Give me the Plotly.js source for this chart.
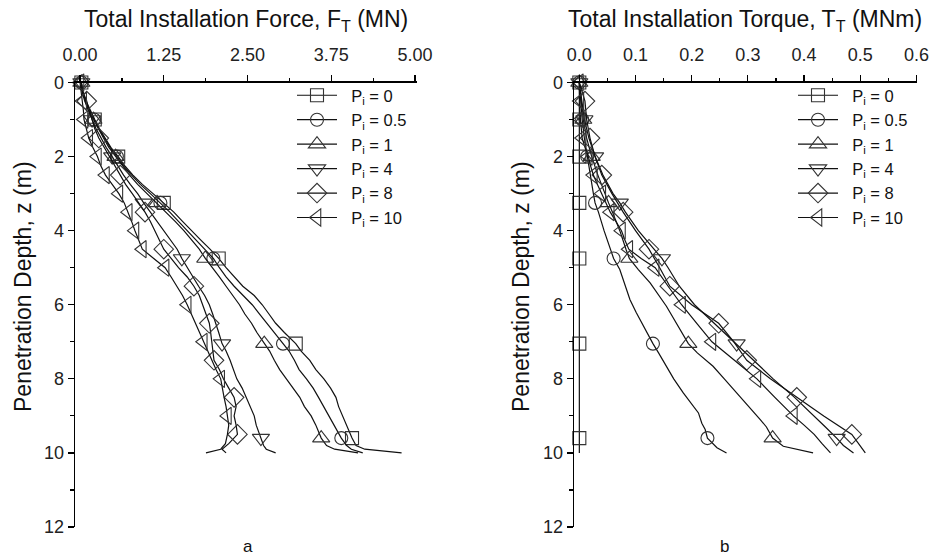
<!DOCTYPE html>
<html>
<head>
<meta charset="utf-8">
<script src="https://cdn.plot.ly/plotly-3.0.1.min.js"></script>
<style>html,body{margin:0;padding:0;background:#fff;}#chart{width:931px;height:559px;}</style>
</head>
<body>
<div id="chart"></div>
<script>
// ---------------- DATA ----------------
const seriesNames = ['P<sub>i</sub> = 0', 'P<sub>i</sub> = 0.5', 'P<sub>i</sub> = 1', 'P<sub>i</sub> = 4', 'P<sub>i</sub> = 8', 'P<sub>i</sub> = 10'];
const seriesSymbols = ['square-open', 'circle-open', 'triangle-up-open', 'triangle-down-open', 'diamond-open', 'triangle-left-open'];

// common depth grid (m) for panel a, P = 0, 0.5, 1, 4
const zGridA = [0,0.25,0.5,0.75,1.0,1.25,1.5,1.75,2.0,2.25,2.5,2.75,3.0,3.25,3.5,3.75,4.0,4.25,4.5,4.75,5.0,5.25,5.5,5.75,6.0,6.25,6.5,6.75,7.05,7.25,7.5,7.75,8.0,8.25,8.5,8.75,9.0,9.25,9.6,9.8,9.9,10.0];
// depth grid for panel a, P = 8, 10
const zGridB = [0,0.25,0.5,0.75,1.0,1.25,1.5,1.75,2.0,2.25,2.5,2.75,3.0,3.25,3.5,3.75,4.0,4.25,4.5,4.75,5.0,5.25,5.5,5.75,6.0,6.25,6.5,6.75,7.0,7.25,7.5,7.75,8.0,8.25,8.5,8.75,9.0,9.25,9.5,9.75,9.9,10.0];

// Panel a: total installation force F_T (MN)
const forceP0  = [0.02,0.04,0.09,0.15,0.22,0.29,0.37,0.46,0.57,0.67,0.79,0.93,1.09,1.25,1.40,1.53,1.66,1.80,1.94,2.07,2.18,2.30,2.43,2.60,2.72,2.82,2.92,3.05,3.22,3.30,3.43,3.52,3.64,3.74,3.82,3.86,3.92,3.97,4.06,4.12,4.25,4.80];
const forceP05 = [0.02,0.04,0.08,0.14,0.21,0.28,0.36,0.45,0.55,0.65,0.77,0.90,1.05,1.20,1.34,1.47,1.60,1.74,1.87,1.99,2.08,2.18,2.30,2.44,2.57,2.68,2.79,2.90,3.03,3.12,3.20,3.27,3.38,3.48,3.56,3.64,3.72,3.79,3.90,3.98,4.05,4.22];
const forceP1  = [0.02,0.04,0.08,0.13,0.20,0.27,0.35,0.43,0.53,0.63,0.74,0.86,1.00,1.15,1.28,1.42,1.55,1.67,1.78,1.87,1.98,2.08,2.18,2.28,2.38,2.46,2.56,2.64,2.75,2.83,2.90,2.98,3.08,3.18,3.28,3.35,3.45,3.52,3.60,3.68,3.80,4.15];
const forceP4  = [0.02,0.03,0.07,0.12,0.18,0.24,0.31,0.39,0.48,0.56,0.65,0.75,0.86,0.95,1.05,1.15,1.25,1.35,1.45,1.52,1.60,1.68,1.77,1.86,1.93,1.98,2.03,2.07,2.12,2.18,2.24,2.29,2.34,2.42,2.48,2.55,2.60,2.63,2.70,2.74,2.78,2.92];
const forceP8  = [0.01,0.04,0.10,0.13,0.18,0.22,0.28,0.36,0.45,0.52,0.60,0.68,0.78,0.88,0.97,1.05,1.12,1.18,1.25,1.36,1.47,1.60,1.70,1.78,1.83,1.88,1.93,1.95,1.97,1.98,2.00,2.08,2.14,2.22,2.30,2.33,2.30,2.33,2.35,2.22,2.12,2.18];
const forceP10 = [0.00,0.02,0.04,0.05,0.06,0.09,0.13,0.19,0.26,0.31,0.38,0.48,0.58,0.66,0.72,0.77,0.82,0.87,0.93,1.10,1.27,1.36,1.45,1.53,1.60,1.66,1.72,1.78,1.84,1.90,1.96,2.03,2.10,2.12,2.15,2.18,2.20,2.22,2.20,2.17,2.10,1.88];

// Panel b: total installation torque T_T (MNm)
const zTorqueP0  = [0,1.0,2.0,3.25,4.75,7.05,9.6,10.0];
const torqueP0   = [0,0,0,0,0,0,0,0];
const zTorqueP05 = [0,0.5,1.0,1.5,2.0,2.5,3.0,3.25,3.5,4.0,4.5,4.75,5.05,5.5,5.86,6.2,6.58,7.05,7.3,7.66,8.0,8.38,8.65,8.92,9.2,9.37,9.6,9.86,10.0];
const torqueP05  = [0,0.002,0.005,0.009,0.014,0.020,0.025,0.028,0.034,0.044,0.055,0.061,0.072,0.082,0.090,0.101,0.114,0.131,0.141,0.155,0.168,0.185,0.198,0.212,0.218,0.224,0.228,0.245,0.262];
const zTorqueP1  = [0,0.5,1.0,1.5,2.0,2.5,3.0,3.25,3.5,4.0,4.5,4.75,5.05,5.41,6.04,6.67,7.05,7.3,7.66,8.0,8.47,8.8,9.1,9.3,9.6,9.82,10.0];
const torqueP1   = [0,0.003,0.007,0.013,0.022,0.033,0.045,0.052,0.059,0.072,0.083,0.089,0.105,0.126,0.155,0.179,0.194,0.210,0.238,0.258,0.286,0.305,0.322,0.333,0.344,0.363,0.416];
const zTorqueP4  = [0,0.5,1.0,1.5,2.0,2.5,3.0,3.25,3.5,4.0,4.5,4.75,5.0,5.5,6.0,6.5,7.05,7.5,8.0,8.5,9.0,9.3,9.6,9.8,10.0];
const torqueP4   = [0,0.004,0.009,0.017,0.028,0.042,0.060,0.072,0.082,0.105,0.132,0.147,0.158,0.178,0.205,0.240,0.280,0.310,0.345,0.383,0.418,0.438,0.458,0.470,0.488];
const zTorqueP8  = [0,0.5,1.0,1.5,2.0,2.5,3.0,3.5,4.0,4.5,5.0,5.5,6.0,6.5,7.0,7.5,8.0,8.5,9.0,9.5,9.75,9.9,10.0];
const torqueP8   = [0,0.010,0.013,0.019,0.028,0.040,0.058,0.078,0.100,0.124,0.143,0.161,0.200,0.248,0.275,0.298,0.340,0.387,0.435,0.485,0.497,0.505,0.509];
const zTorqueP10 = [0,0.25,0.5,0.75,1.0,1.25,1.5,1.75,2.0,2.25,2.5,2.75,3.0,3.25,3.5,3.75,4.0,4.25,4.5,4.75,5.0,5.5,6.0,6.5,7.0,7.5,8.0,8.5,9.0,9.25,9.5,9.75,9.9,10.0];
const torqueP10  = [0,0,0.001,0.001,0.002,0.003,0.005,0.010,0.016,0.020,0.025,0.032,0.040,0.047,0.055,0.065,0.075,0.081,0.088,0.110,0.135,0.158,0.182,0.209,0.236,0.276,0.316,0.348,0.381,0.400,0.418,0.432,0.440,0.447];

// depths at which symbols are drawn
const markDepthsP0to4 = [0,1.0,2.0,3.25,4.75,7.05,9.6];
const markDepthsP8    = [0.5,1.5,2.5,3.5,4.5,5.5,6.5,7.5,8.5,9.5];
const markDepthsP10   = [0,0.5,1.0,1.5,2.0,2.5,3.0,3.5,4.0,4.5,5.0,6.0,7.0,8.0,9.0];

const xTicksA = [0,1.25,2.5,3.75,5.0];
const xTicksB = [0,0.1,0.2,0.3,0.4,0.5,0.6];
const yTicks  = [0,2,4,6,8,10,12];

// ---------------- BUILD ----------------
const FONT = 'Liberation Sans, Arial, Helvetica, sans-serif';
const LINE_C = '#111';
const MARK_C = '#333';

const panelA = [
  [zGridA, forceP0, markDepthsP0to4],
  [zGridA, forceP05, markDepthsP0to4],
  [zGridA, forceP1, markDepthsP0to4],
  [zGridA, forceP4, markDepthsP0to4],
  [zGridB, forceP8, markDepthsP8],
  [zGridB, forceP10, markDepthsP10]
];
const panelB = [
  [zTorqueP0, torqueP0, markDepthsP0to4],
  [zTorqueP05, torqueP05, markDepthsP0to4],
  [zTorqueP1, torqueP1, markDepthsP0to4],
  [zTorqueP4, torqueP4, markDepthsP0to4],
  [zTorqueP8, torqueP8, markDepthsP8],
  [zTorqueP10, torqueP10, markDepthsP10]
];

function markerStyle(i) {
  const sym = seriesSymbols[i];
  let size = 13;
  if (sym.indexOf('triangle') === 0) size = 15;
  if (sym.indexOf('diamond') === 0) size = 15;
  return {symbol: sym, size: size, color: MARK_C, line: {color: MARK_C, width: 1.1}};
}

const traces = [];
function addPanel(panel, xa, ya, legendId) {
  panel.forEach((s, i) => {
    const z = s[0], v = s[1], marks = s[2];
    traces.push({
      x: v, y: z, xaxis: xa, yaxis: ya, type: 'scatter', mode: 'lines',
      line: {color: LINE_C, width: 1.2}, showlegend: false, hoverinfo: 'skip'
    });
    const mx = [], my = [];
    z.forEach((d, k) => { if (marks.indexOf(d) >= 0) { mx.push(v[k]); my.push(d); } });
    traces.push({
      x: mx, y: my, xaxis: xa, yaxis: ya, type: 'scatter', mode: 'markers',
      marker: markerStyle(i), showlegend: false, hoverinfo: 'skip', cliponaxis: false
    });
  });
  panel.forEach((s, i) => {
    traces.push({
      x: [null], y: [null], xaxis: xa, yaxis: ya, type: 'scatter', mode: 'lines+markers',
      name: '&nbsp;&nbsp;' + seriesNames[i], legend: legendId,
      line: {color: LINE_C, width: 1.2}, marker: markerStyle(i)
    });
  });
}
addPanel(panelA, 'x', 'y', 'legend');
addPanel(panelB, 'x2', 'y2', 'legend2');

const H = 559, W = 931;
const yDom = [1 - 527 / H, 1 - 82.5 / H];

function xAxis(dom, range, ticks, fmt, minorDt, anchor) {
  return {
    domain: dom, range: range, side: 'top', anchor: anchor,
    tickvals: ticks, ticktext: ticks.map(t => t.toFixed(fmt)),
    ticks: 'outside', ticklen: 6, tickwidth: 1.2, tickcolor: '#000',
    minor: {ticks: 'outside', ticklen: 3.5, tickwidth: 1.2, tickcolor: '#000', dtick: minorDt, tick0: 0, showgrid: false},
    showline: true, linecolor: '#000', linewidth: 1.3, mirror: false,
    showgrid: false, zeroline: false, automargin: false,
    ticklabelstandoff: 7,
    tickfont: {family: FONT, size: 18, color: '#222'}
  };
}
function yAxis(anchor) {
  return {
    domain: yDom, range: [12, 0], anchor: anchor,
    tickvals: yTicks, ticks: 'outside', ticklen: 6, tickwidth: 1.2, tickcolor: '#000',
    minor: {ticks: 'outside', ticklen: 3.5, tickwidth: 1.2, tickcolor: '#000', dtick: 1, tick0: 0, showgrid: false},
    showline: true, linecolor: '#000', linewidth: 1.3,
    showgrid: false, zeroline: false, automargin: false,
    ticklabelstandoff: 0,
    tickfont: {family: FONT, size: 18, color: '#222'}
  };
}

const titleFont = {family: FONT, size: 23, color: '#111'};
const legFont = {family: FONT, size: 16.5, color: '#111'};
const layout = {
  width: W, height: H,
  margin: {l: 0, r: 0, t: 0, b: 0},
  paper_bgcolor: '#fff', plot_bgcolor: 'rgba(0,0,0,0)',
  font: {family: FONT, color: '#111'},
  showlegend: true,
  xaxis: xAxis([75 / W, 417 / W], [-0.075, 5.03], xTicksA, 2, 0.625, 'y'),
  yaxis: yAxis('x'),
  xaxis2: xAxis([574 / W, 917 / W], [-0.0095, 0.601], xTicksB, 1, 0.05, 'y2'),
  yaxis2: yAxis('x2'),
  legend: {x: 292 / W, y: 1 - 78 / H, xanchor: 'left', yanchor: 'top', bgcolor: 'rgba(0,0,0,0)',
           font: legFont, itemwidth: 40, traceorder: 'normal'},
  legend2: {x: 793 / W, y: 1 - 78 / H, xanchor: 'left', yanchor: 'top', bgcolor: 'rgba(0,0,0,0)',
            font: legFont, itemwidth: 40, traceorder: 'normal'},
  annotations: [
    {text: 'Total Installation Force, F<sub>T</sub> (MN)', xref: 'paper', yref: 'paper', x: 246 / W, y: 1 - 20 / H,
     xanchor: 'center', yanchor: 'middle', showarrow: false, font: titleFont},
    {text: 'Total Installation Torque, T<sub>T</sub> (MNm)', xref: 'paper', yref: 'paper', x: 745 / W, y: 1 - 20 / H,
     xanchor: 'center', yanchor: 'middle', showarrow: false, font: titleFont},
    {text: 'Penetration Depth, z (m)', xref: 'paper', yref: 'paper', x: 23 / W, y: 1 - 287 / H, textangle: -90,
     xanchor: 'center', yanchor: 'middle', showarrow: false, font: titleFont},
    {text: 'Penetration Depth, z (m)', xref: 'paper', yref: 'paper', x: 521 / W, y: 1 - 287 / H, textangle: -90,
     xanchor: 'center', yanchor: 'middle', showarrow: false, font: titleFont},
    {text: 'a', xref: 'paper', yref: 'paper', x: 248 / W, y: 1 - 546 / H,
     xanchor: 'center', yanchor: 'middle', showarrow: false, font: {family: FONT, size: 17, color: '#111'}},
    {text: 'b', xref: 'paper', yref: 'paper', x: 724 / W, y: 1 - 546 / H,
     xanchor: 'center', yanchor: 'middle', showarrow: false, font: {family: FONT, size: 17, color: '#111'}}
  ]
};

Plotly.newPlot('chart', traces, layout, {staticPlot: true, displayModeBar: false});
</script>
</body>
</html>
